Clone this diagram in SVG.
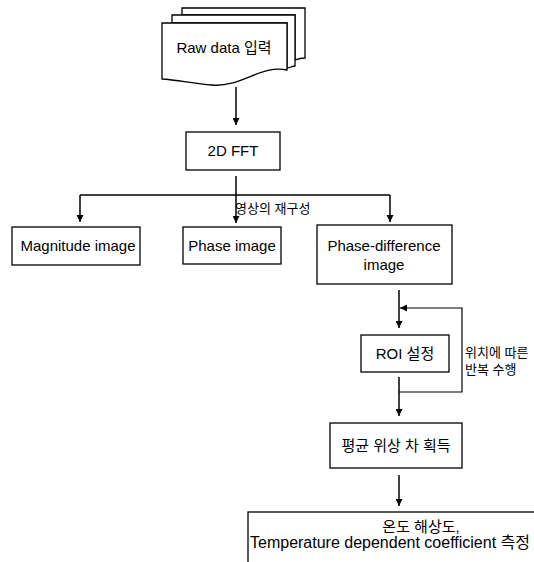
<svg xmlns="http://www.w3.org/2000/svg" width="534" height="562" viewBox="0 0 534 562">
<style>
.box{fill:#fff;stroke:#000;stroke-width:1.3}
.ln{fill:none;stroke:#000;stroke-width:1.5}
.fb{fill:none;stroke:#000;stroke-width:1.2}
text{font-family:"Liberation Sans","Noto Sans CJK KR",sans-serif;font-size:15px;fill:#000}
.c{text-anchor:middle}
</style>
<defs>
<marker id="ah" viewBox="0 0 10 10" refX="10" refY="5" markerWidth="7" markerHeight="7" markerUnits="userSpaceOnUse" orient="auto"><path d="M0,0 L10,5 L0,10 Z" fill="#000"/></marker>
</defs>
<rect width="534" height="562" fill="#fff"/>
<g id="raw">
<path class="box" d="M182,8 H305 V58 C298,58 296,60 295,60 V15 H182 Z"/>
<path class="box" d="M172,15 H295 V66 C292,66 290,68 287,68 V23 H172 Z"/>
<path class="box" d="M162,23 H287 V70 C262,64 240,88 212,85 C192,83 176,80 162,79 Z"/>
<text class="c" x="224" y="53">Raw data 입력</text>
</g>
<g id="fft">
<rect class="box" x="186" y="132" width="94" height="38"/>
<text class="c" x="233" y="156">2D FFT</text>
</g>
<g id="mag">
<rect class="box" x="12" y="227" width="128" height="38"/>
<text class="c" x="78" y="251">Magnitude image</text>
</g>
<g id="phase">
<rect class="box" x="183" y="227" width="98" height="37"/>
<text class="c" x="232" y="251">Phase image</text>
</g>
<g id="pdiff">
<rect class="box" x="317" y="225" width="135" height="59"/>
<text class="c" x="384" y="251">Phase-difference</text>
<text class="c" x="384" y="270">image</text>
</g>
<g id="roi">
<rect class="box" x="361" y="335" width="88" height="37"/>
<text class="c" x="405" y="359">ROI 설정</text>
</g>
<g id="avg">
<rect class="box" x="330" y="423" width="132" height="45"/>
<text class="c" x="396" y="451">평균 위상 차 획득</text>
</g>
<g id="temp">
<rect class="box" x="248" y="512" width="300" height="70"/>
<text class="c" x="421" y="532">온도 해상도,</text>
<text x="250" y="548" style="font-size:16px">Temperature dependent coefficient 측정</text>
</g>
<g id="connectors">
<line class="ln" x1="236" y1="87" x2="236" y2="125" marker-end="url(#ah)"/>
<line class="ln" x1="236" y1="176" x2="236" y2="195"/>
<line class="ln" x1="80" y1="195" x2="390" y2="195"/>
<line class="ln" x1="80" y1="195" x2="80" y2="222" marker-end="url(#ah)"/>
<line class="ln" x1="236" y1="195" x2="236" y2="223" marker-end="url(#ah)"/>
<line class="ln" x1="390" y1="195" x2="390" y2="222" marker-end="url(#ah)"/>
<line class="ln" x1="399" y1="290" x2="399" y2="328" marker-end="url(#ah)"/>
<line class="ln" x1="399" y1="377" x2="399" y2="416" marker-end="url(#ah)"/>
<polyline class="fb" points="399,392 462,392 462,308 400,308" marker-end="url(#ah)"/>
<line class="ln" x1="399" y1="475" x2="399" y2="506" marker-end="url(#ah)"/>
<text x="235" y="213" style="font-size:13px">영상의 재구성</text>
<text x="465" y="357" style="font-size:13px">위치에 따른</text>
<text x="465" y="374" style="font-size:13px">반복 수행</text>
</g>
</svg>
